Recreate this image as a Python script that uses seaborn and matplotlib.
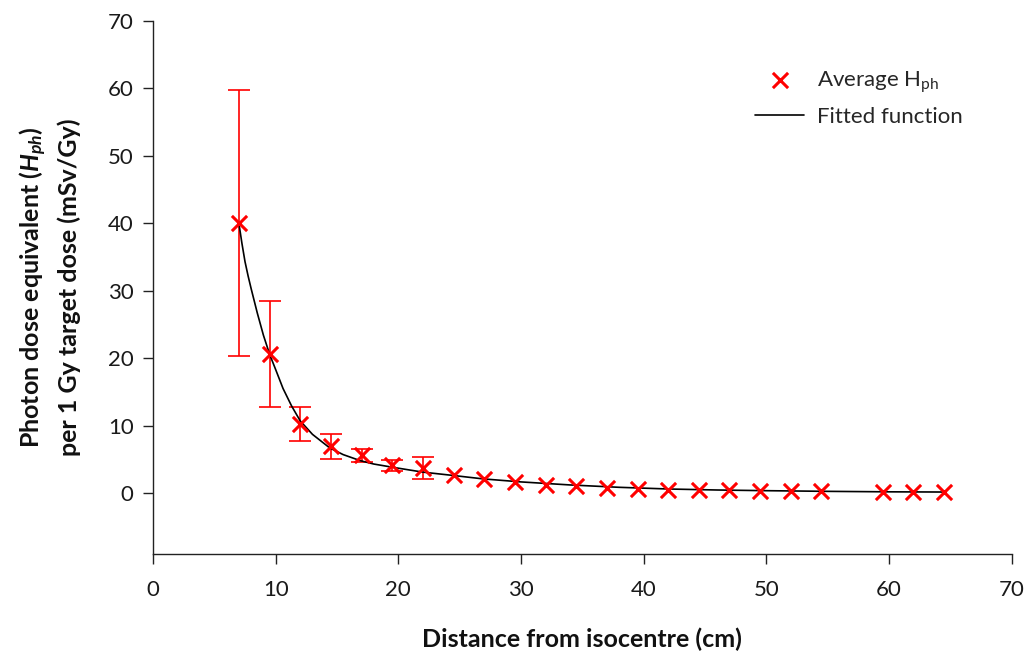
import numpy as np
import pandas as pd
import seaborn as sns
import matplotlib
matplotlib.use('Agg')
import matplotlib.pyplot as plt

# 数据：测量点 (cm, mSv/Gy)
distance = [7, 9.5, 12, 14.5, 17, 19.5, 22, 24.5, 27, 29.5, 32, 34.5, 37, 39.5,
            42, 44.5, 47, 49.5, 52, 54.5, 59.5, 62, 64.5]
h_ph = [40.0, 20.6, 10.3, 7.0, 5.6, 4.1, 3.7, 2.7, 2.1, 1.6, 1.2, 1.0, 0.8, 0.6,
        0.5, 0.45, 0.4, 0.35, 0.3, 0.28, 0.2, 0.18, 0.15]
# 误差棒上下界 (只有前 7 个点可见)
err_low = [20.3, 12.7, 7.7, 5.1, 4.6, 3.2, 2.1]
err_high = [59.7, 28.5, 12.8, 8.8, 6.6, 4.9, 5.4]

# 拟合曲线
fit_x = [7, 7.25, 7.5, 7.75, 8, 8.5, 9, 9.5, 10, 10.6, 11.3, 12, 13, 14.4, 15.5,
         16.9, 18, 19.6, 22, 24.5, 26.9, 30, 34, 38, 42, 46, 50, 55, 60, 64.5]
fit_y = [40.0, 37.0, 34.3, 32.2, 30.3, 26.7, 23.4, 20.6, 18.3, 15.5, 12.9, 10.7,
         8.7, 6.7, 5.7, 4.8, 4.3, 3.8, 3.1, 2.6, 2.1, 1.65, 1.2, 0.85, 0.6, 0.45,
         0.35, 0.25, 0.18, 0.15]

df = pd.DataFrame({'x': distance, 'y': h_ph})
fit = pd.DataFrame({'x': fit_x, 'y': fit_y})

sns.set_style('ticks')
plt.rcParams['font.family'] = ['Lato', 'DejaVu Sans']
plt.rcParams['mathtext.fontset'] = 'custom'
plt.rcParams['mathtext.rm'] = 'Lato'
plt.rcParams['mathtext.it'] = 'Lato:italic:bold'
plt.rcParams['mathtext.bf'] = 'Lato:bold'

fig = plt.figure(figsize=(10.27, 6.53), dpi=100)
ax = fig.add_axes([0.149, 0.152, 0.836, 0.816])

red = '#ff0000'
dark = '#222222'

# 误差棒
n = len(err_low)
yerr = [np.array(h_ph[:n]) - np.array(err_low), np.array(err_high) - np.array(h_ph[:n])]
ax.errorbar(distance[:n], h_ph[:n], yerr=yerr, fmt='none', ecolor=red,
            elinewidth=1.2, capsize=8, capthick=1.2, zorder=2)

# 拟合曲线
sns.lineplot(data=fit, x='x', y='y', color='black', linewidth=1.2, ax=ax,
             label='Fitted function', zorder=3, sort=False)

# 测量点
sns.scatterplot(data=df, x='x', y='y', marker='x', color=red, s=120,
                linewidth=2.2, ax=ax, label=r'Average $\mathrm{H_{ph}}$', zorder=4)

ax.set_xlim(0, 70)
ax.set_ylim(-9, 70)
ax.set_xticks(range(0, 71, 10))
ax.set_yticks(range(0, 71, 10))
ax.tick_params(axis='both', labelsize=16, length=7, width=1, direction='out',
               colors=dark, labelcolor='#1a1a1a')
ax.tick_params(axis='x', pad=12)
ax.tick_params(axis='y', pad=7)
for s in ['left', 'bottom']:
    ax.spines[s].set_linewidth(1)
    ax.spines[s].set_color(dark)
sns.despine(ax=ax)

ax.set_xlabel('Distance from isocentre (cm)', fontsize=18, fontweight='bold',
              labelpad=20, color='#111111')
ax.set_ylabel('Photon dose equivalent ($H_{ph}$)\nper 1 Gy target dose (mSv/Gy)',
              fontsize=18, fontweight='bold', labelpad=19, linespacing=1.45,
              color='#111111')

handles, labels = ax.get_legend_handles_labels()
order = [1, 0]
ax.legend([handles[i] for i in order], [labels[i] for i in order],
          loc='upper left', bbox_to_anchor=(744 / 1027, 1 - 58 / 653),
          bbox_transform=fig.transFigure, frameon=False, borderpad=0,
          fontsize=16, handlelength=2.2, handletextpad=0.6, labelspacing=0.55)

fig.savefig('out.png', dpi=100)
